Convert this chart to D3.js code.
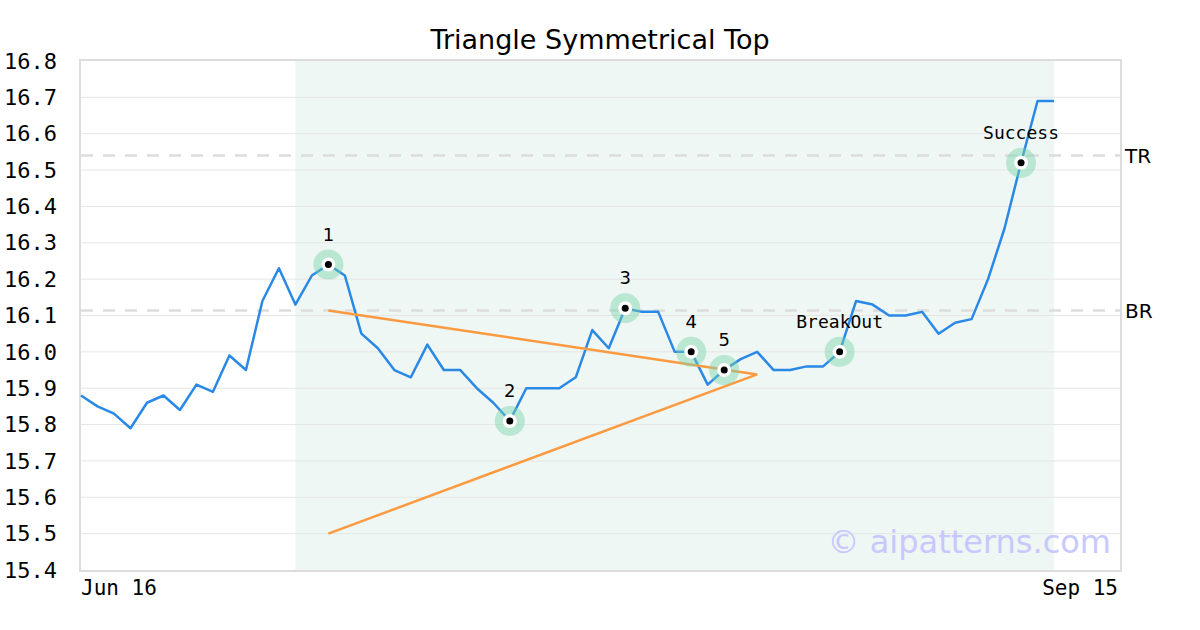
<!DOCTYPE html>
<html><head><meta charset="utf-8">
<script src="https://cdn.jsdelivr.net/npm/d3@7"></script>
<style>body{margin:0;background:#fff}svg{display:block}</style>
</head><body>
<svg id="c" width="1200" height="630"></svg>
<script>
const prices = [15.88,15.85,15.83,15.79,15.86,15.88,15.84,15.91,15.89,15.99,15.95,16.14,16.23,16.13,16.21,16.24,16.21,16.05,16.01,15.95,15.93,16.02,15.95,15.95,15.90,15.86,15.81,15.90,15.90,15.90,15.93,16.06,16.01,16.12,16.11,16.11,16.00,16.00,15.91,15.95,15.98,16.00,15.95,15.95,15.96,15.96,16.00,16.14,16.13,16.10,16.10,16.11,16.05,16.08,16.09,16.20,16.34,16.52,16.69,16.69];
const slotCount = 64;
const xLabels = ["Jun 16","Sep 15"];
const yTicks = [15.4,15.5,15.6,15.7,15.8,15.9,16.0,16.1,16.2,16.3,16.4,16.5,16.6,16.7,16.8];
const shadeRange = [13, 59];
const markerIdx = [15,26,33,37,39,46,57];
const markerLabels = ["1","2","3","4","5","BreakOut","Success"];
const levels = [{name:"TR", value:16.54},{name:"BR", value:16.114}];
const upperTrend = [[15,16.114],[41,15.938]];
const lowerTrend = [[15,15.5],[41,15.938]];

const svg = d3.select("#c");
const L=81, R=1120, T=61, B=570;
const x = d3.scaleLinear().domain([0, slotCount-1]).range([L,R]);
const y = d3.scaleLinear().domain([15.4,16.8]).range([B,T]);

svg.append("text").attr("x",600).attr("y",49).attr("text-anchor","middle")
  .attr("font-family","DejaVu Sans").attr("font-size",27).text("Triangle Symmetrical Top");

// shading
svg.append("rect").attr("x",x(shadeRange[0])).attr("y",T).attr("width",x(shadeRange[1])-x(shadeRange[0])).attr("height",B-T).attr("fill","#eef7f3");

// grid
svg.append("g").selectAll("line").data(yTicks.slice(1,-1)).join("line")
  .attr("x1",L).attr("x2",R).attr("y1",d=>y(d)).attr("y2",d=>y(d))
  .attr("stroke","#e6e6e6").attr("stroke-width",1);

// y tick labels
svg.append("g").selectAll("text").data(yTicks).join("text")
  .attr("x",57).attr("y",d=>y(d)).attr("dy","0.35em").attr("text-anchor","end")
  .attr("font-family","DejaVu Sans Mono").attr("font-size",22).text(d=>d.toFixed(1));

// x labels
svg.append("text").attr("x",L).attr("y",595).attr("font-family","DejaVu Sans Mono").attr("font-size",21).text(xLabels[0]);
svg.append("text").attr("x",R-2).attr("y",595).attr("text-anchor","end").attr("font-family","DejaVu Sans Mono").attr("font-size",21).text(xLabels[1]);

// levels
levels.forEach(l=>{
  svg.append("line").attr("x1",L).attr("x2",R).attr("y1",y(l.value)).attr("y2",y(l.value))
    .attr("stroke","#dddddd").attr("stroke-width",2.5).attr("stroke-dasharray","12,10");
  svg.append("text").attr("x",1125).attr("y",y(l.value)).attr("dy","0.36em")
    .attr("font-family","DejaVu Sans").attr("font-size",20).text(l.name);
});

// watermark
svg.append("text").attr("x",1111).attr("y",553).attr("text-anchor","end")
  .attr("font-family","DejaVu Sans").attr("font-size",32).attr("fill","#c8c8ff").text("© aipatterns.com");

// border
svg.append("rect").attr("x",L-1).attr("y",T-1).attr("width",R-L+2).attr("height",B-T+2)
  .attr("fill","none").attr("stroke","#dcdcdc").attr("stroke-width",2);

// price line
const line = d3.line().x((d,i)=>x(i)).y(d=>y(d));
svg.append("path").datum(prices).attr("d",line).attr("fill","none")
  .attr("stroke","#2a88e6").attr("stroke-width",2.5).attr("stroke-linejoin","round");

// trendlines
const tl = d3.line().x(d=>x(d[0])).y(d=>y(d[1]));
[upperTrend, lowerTrend].forEach(t=>{
  svg.append("path").datum(t).attr("d",tl).attr("fill","none").attr("stroke","#fb9a40").attr("stroke-width",2.5);
});

// markers
const mg = svg.append("g");
markerIdx.forEach((idx,k)=>{
  const cx=x(idx), cy=y(prices[idx]);
  mg.append("circle").attr("cx",cx).attr("cy",cy).attr("r",15).attr("fill","rgba(120,210,170,0.45)");
  mg.append("circle").attr("cx",cx).attr("cy",cy).attr("r",7).attr("fill","#fff");
  mg.append("circle").attr("cx",cx).attr("cy",cy).attr("r",3.5).attr("fill","#000");
  const lab = markerLabels[k];
  const mono = lab.length>1;
  mg.append("text").attr("x",cx).attr("y",cy-24).attr("text-anchor","middle")
    .attr("font-family", mono?"DejaVu Sans Mono":"DejaVu Sans").attr("font-size",18).text(lab);
});
</script>
</body></html>
